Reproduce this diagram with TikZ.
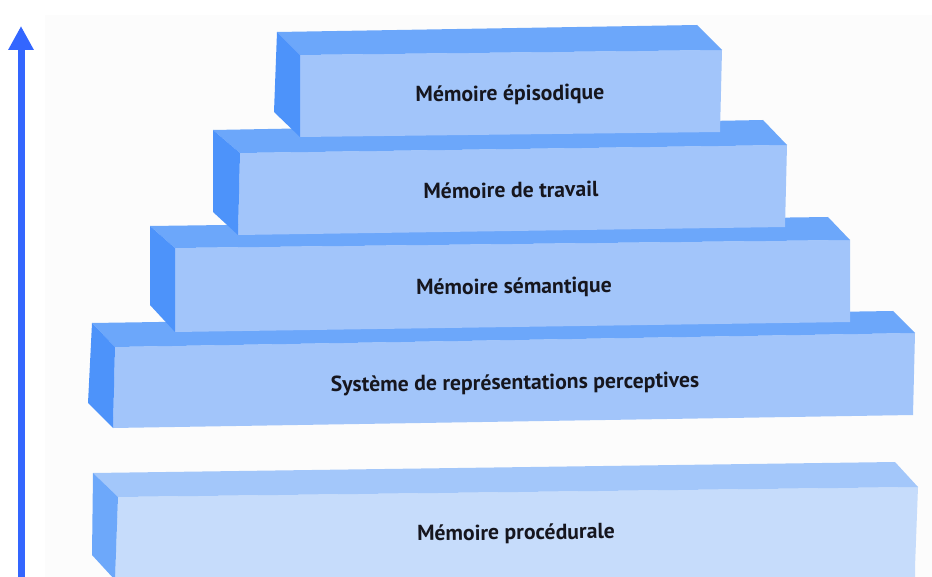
\documentclass[tikz,border=0pt]{standalone}
\usepackage{fontspec}
\setmainfont{PT Sans}
\usetikzlibrary{arrows.meta}
\definecolor{frontA}{HTML}{A2C5FA}
\definecolor{topA}{HTML}{6CA7FA}
\definecolor{sideA}{HTML}{4D93FA}
\definecolor{frontB}{HTML}{C6DCFB}
\definecolor{topB}{HTML}{A3C7FA}
\definecolor{sideB}{HTML}{6DA8FA}
\definecolor{arrowblue}{HTML}{3366FF}
\definecolor{bgpanel}{HTML}{FCFCFC}
\definecolor{textdark}{HTML}{16161E}
\tikzset{
  label/.style={font=\bfseries\fontsize{21.7}{25}\selectfont, text=textdark, inner sep=0pt, rotate=0.7},
}
\begin{document}
\begin{tikzpicture}[x=1pt,y=-1pt]
\useasboundingbox (0,0) rectangle (932,577);
\fill[white] (0,0) rectangle (932,577);
\fill[bgpanel] (45,15) rectangle (932,577);
% Block 5 : procedurale
\fill[frontB] (118,497) -- (918,487) -- (915,567) -- (915,580) -- (115,580) -- cycle;
\fill[topB] (93,473) -- (895,462) -- (918,487) -- (118,497) -- cycle;
\fill[sideB] (93,473) -- (118,497) -- (115,580) -- (92,555) -- cycle;
% Block 4 : systeme
\fill[frontA] (115,347) -- (915,333) -- (913,415) -- (113,428) -- cycle;
\fill[topA] (92,323) -- (893,311) -- (915,333) -- (115,347) -- cycle;
\fill[sideA] (92,323) -- (115,347) -- (113,428) -- (88,403) -- cycle;
% Block 3 : semantique
\fill[frontA] (175,248) -- (850,240) -- (850,322) -- (175,332) -- cycle;
\fill[topA] (150,226) -- (828,217) -- (850,240) -- (175,248) -- cycle;
\fill[sideA] (150,226) -- (175,248) -- (175,332) -- (150,305) -- cycle;
% Block 2 : travail
\fill[frontA] (240,153) -- (787,145) -- (785,227) -- (238,235) -- cycle;
\fill[topA] (213,130) -- (763,120) -- (787,145) -- (240,153) -- cycle;
\fill[sideA] (213,130) -- (240,153) -- (238,235) -- (213,212) -- cycle;
% Block 1 : episodique
\fill[frontA] (300,55) -- (722,50) -- (720,132) -- (300,137) -- cycle;
\fill[topA] (277,32) -- (697,25) -- (722,50) -- (300,55) -- cycle;
\fill[sideA] (277,32) -- (300,55) -- (300,137) -- (274,112) -- cycle;
% Labels
\node[label] (episodique) at (510,95) {Mémoire épisodique};
\node[label] (travail) at (511,190) {Mémoire de travail};
\node[label] (semantique) at (514,288) {Mémoire sémantique};
\node[label] (systeme) at (515,384) {Système de représentations perceptives};
\node[label] (procedurale) at (516,534) {Mémoire procédurale};
% Arrow
\coordinate (arrowfoot) at (21,580);
\coordinate (arrowtip) at (21,26);
\draw[arrowblue, line width=7pt, -{Triangle[length=24pt,width=24pt]}] (arrowfoot) -- (arrowtip);
\end{tikzpicture}
\end{document}
